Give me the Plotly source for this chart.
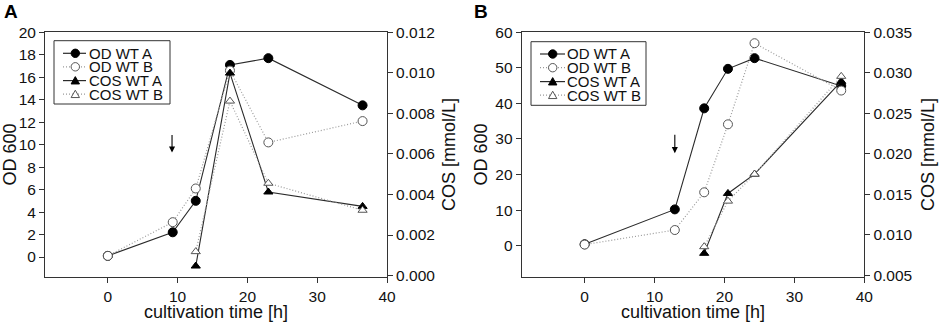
import plotly.graph_objects as go

# ---------------- data ----------------
# Panel A
a_time_od = [0, 9.3, 12.6, 17.5, 23.0, 36.5]
a_od_wt_a = [0.1, 2.2, 5.0, 17.1, 17.7, 13.5]
a_od_wt_b = [0.1, 3.1, 6.1, 16.6, 10.2, 12.1]
a_time_cos = [12.6, 17.5, 23.0, 36.5]
a_cos_wt_a = [0.00047, 0.00998, 0.00412, 0.00341]
a_cos_wt_b = [0.00118, 0.0086, 0.00455, 0.00322]
a_arrow = [9.2, 11.0, 9.3]   # x, tail y, head y

# Panel B
b_time_od = [0, 12.9, 17.1, 20.5, 24.3, 36.7]
b_od_wt_a = [0.4, 10.2, 38.6, 49.7, 52.7, 44.9]
b_od_wt_b = [0.3, 4.4, 15.0, 34.1, 56.9, 43.6]
b_time_cos = [17.1, 20.5, 24.3, 36.7]
b_cos_wt_a = [0.00771, 0.0151, 0.01748, 0.02893]
b_cos_wt_b = [0.00853, 0.01415, 0.01748, 0.02955]
b_arrow = [12.9, 31.6, 26.0]

series_names = ["OD WT A", "OD WT B", "COS WT A", "COS WT B"]
a_left_ticks = [0, 2, 4, 6, 8, 10, 12, 14, 16, 18, 20]
a_right_ticks = [0.0, 0.002, 0.004, 0.006, 0.008, 0.010, 0.012]
b_left_ticks = [0, 10, 20, 30, 40, 50, 60]
b_right_ticks = [0.005, 0.010, 0.015, 0.020, 0.025, 0.030, 0.035]
x_ticks = [0, 10, 20, 30, 40]

W, H = 941, 322
FONT = "Liberation Sans, Arial, sans-serif"
AX = "#333333"
SOLID = "#2a2a2a"
GREY = "#9a9a9a"
EDGE = "#555555"

# style per series: (line color, dash, symbol, fill)
styles = [
    (SOLID, "solid", "circle", "#000"),
    (GREY, "1px,2px", "circle", "white"),
    (SOLID, "solid", "triangle-up", "#000"),
    (GREY, "1px,2px", "triangle-up", "white"),
]

fig = go.Figure()

def add_panel(xa, yl, yr, t_od, od_a, od_b, t_cos, cos_a, cos_b):
    xs = [t_od, t_od, t_cos, t_cos]
    ys = [od_a, od_b, cos_a, cos_b]
    yax = [yl, yl, yr, yr]
    for i in range(4):
        col, dash, sym, fill = styles[i]
        fig.add_trace(go.Scatter(
            x=xs[i], y=ys[i], name=series_names[i], xaxis=xa, yaxis=yax[i],
            mode="lines+markers", showlegend=False,
            line=dict(color=col, width=1.1 if dash == "solid" else 1.2, dash=dash),
            marker=dict(symbol=sym, size=9 if sym == "circle" else 8, color=fill,
                        line=dict(color="#000" if fill == "#000" else EDGE, width=1))))

add_panel("x", "y", "y2", a_time_od, a_od_wt_a, a_od_wt_b, a_time_cos, a_cos_wt_a, a_cos_wt_b)
add_panel("x2", "y3", "y4", b_time_od, b_od_wt_a, b_od_wt_b, b_time_cos, b_cos_wt_a, b_cos_wt_b)

def px(x):
    return x / W

def py(y):
    return 1 - y / H

top, bot = 32, 277
ydom = [py(bot), py(top)]
dA = [px(45), px(387)]
dB = [px(521.7), px(864.3)]

tickfont = dict(family=FONT, size=15.5, color="#111")
titlefont = dict(family=FONT, size=18, color="#111")

common = dict(showline=True, linecolor=AX, linewidth=1, ticks="outside", ticklen=5,
              tickcolor=AX, showgrid=False, zeroline=False, tickfont=tickfont,
              automargin=False)

def xaxis(dom, anchor):
    return dict(domain=dom, anchor=anchor, range=[-9, 40], tickvals=x_ticks, mirror=True,
                title=dict(text="cultivation time [h]", font=titlefont, standoff=2), **common)

def yleft(rng, ticks, anchor):
    return dict(domain=ydom, anchor=anchor, range=rng, tickvals=ticks, side="left",
                title=dict(text="OD 600", font=titlefont, standoff=3), **common)

def yright(rng, ticks, overlay, anchor, so):
    return dict(domain=ydom, anchor=anchor, overlaying=overlay, range=rng, tickvals=ticks,
                side="right", tickformat=".3f",
                title=dict(text="COS [mmol/L]", font=titlefont, standoff=so), **common)

fig.update_layout(
    width=W, height=H, margin=dict(l=0, r=0, t=0, b=0, autoexpand=False),
    paper_bgcolor="white", plot_bgcolor="white", showlegend=False,
    font=dict(family=FONT),
    xaxis=xaxis(dA, "y"),
    yaxis=yleft([-1.78, 20.03], a_left_ticks, "x"),
    yaxis2=yright([-0.00007, 0.012005], a_right_ticks, "y", "x", 8),
    xaxis2=xaxis(dB, "y3"),
    yaxis3=yleft([-8.8, 60.05], b_left_ticks, "x2"),
    yaxis4=yright([0.00479, 0.03502], b_right_ticks, "y3", "x2", 9),
)

# arrows
for xr, yr, arr in (("x", "y", a_arrow), ("x2", "y3", b_arrow)):
    fig.add_annotation(x=arr[0], y=arr[2], ax=arr[0], ay=arr[1], xref=xr, yref=yr,
                       axref=xr, ayref=yr, showarrow=True, arrowhead=2, arrowsize=1.1,
                       arrowwidth=1.1, arrowcolor="#000", text="")

# manual legends (box, line sample, marker sample, label)
def legend(box, line_x, mark_x, text_x, rows):
    x0, y0, x1, y1 = box
    fig.add_shape(type="rect", xref="paper", yref="paper", x0=px(x0), x1=px(x1),
                  y0=py(y1), y1=py(y0), line=dict(color="#333", width=1), fillcolor="white",
                  layer="above")
    for i, ry in enumerate(rows):
        col, dash, sym, fill = styles[i]
        fig.add_shape(type="line", xref="paper", yref="paper", x0=px(line_x[0]), x1=px(line_x[1]),
                      y0=py(ry), y1=py(ry), line=dict(color=col, width=1.2, dash=dash), layer="above")
        edge = "#000" if fill == "#000" else EDGE
        if sym == "circle":
            r = 4.2
            fig.add_shape(type="circle", xref="paper", yref="paper",
                          x0=px(mark_x - r), x1=px(mark_x + r), y0=py(ry + r), y1=py(ry - r),
                          line=dict(color=edge, width=1), fillcolor=fill, layer="above")
        else:
            s = 4.2
            path = "M {} {} L {} {} L {} {} Z".format(
                px(mark_x - s), py(ry + s * 0.8), px(mark_x + s), py(ry + s * 0.8),
                px(mark_x), py(ry - s * 0.95))
            fig.add_shape(type="path", xref="paper", yref="paper", path=path,
                          line=dict(color=edge, width=1), fillcolor=fill, layer="above")
        fig.add_annotation(x=px(text_x), y=py(ry), xref="paper", yref="paper",
                           text=series_names[i], showarrow=False, xanchor="left",
                           yanchor="middle", height=13, borderpad=0,
                           font=dict(family=FONT, size=15, color="#111"))

legend((54, 40.7, 170, 104), (63, 86), 75.3, 88, [53.3, 66.8, 80.6, 94.2])
legend((531, 41.7, 646, 105.3), (540, 565), 552.7, 565.5, [54, 67.7, 81.6, 95.2])

# panel letters
for lx, letter in ((2, "A"), (472, "B")):
    fig.add_annotation(x=px(lx), y=py(11.5), xref="paper", yref="paper",
                       text="<b>" + letter + "</b>", showarrow=False, xanchor="left",
                       yanchor="middle", font=dict(family=FONT, size=19, color="#000"))

fig.write_html("out.html", config={"displayModeBar": False},
               post_script="document.body.style.margin='0';document.body.style.padding='0';")
